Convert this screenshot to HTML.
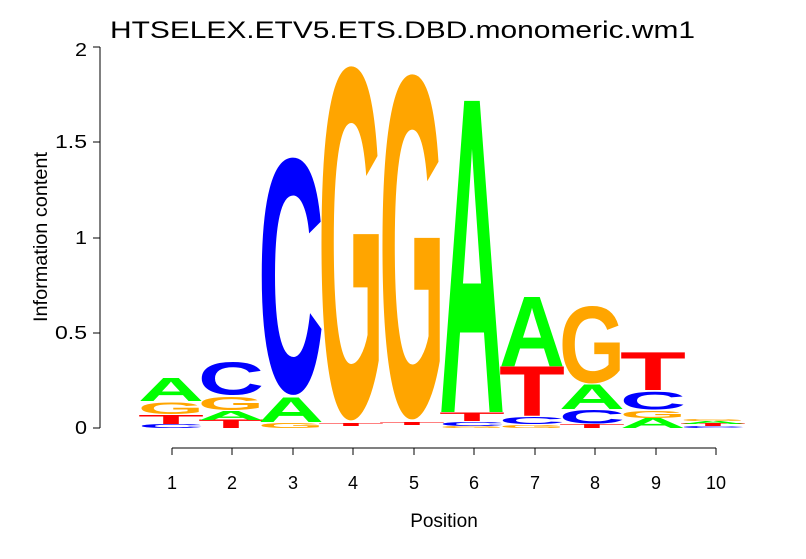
<!DOCTYPE html>
<html><head><style>body{margin:0;background:#fff}svg{display:block}</style></head>
<body>
<svg width="806" height="559" xmlns="http://www.w3.org/2000/svg" font-family="Liberation Sans, sans-serif">
<text x="110" y="38" font-size="24" textLength="585" lengthAdjust="spacingAndGlyphs">HTSELEX.ETV5.ETS.DBD.monomeric.wm1</text>
<g stroke="#000" stroke-width="1">
<line x1="100" y1="47" x2="100" y2="428"/>
<line x1="93" y1="428" x2="100" y2="428"/><line x1="93" y1="333" x2="100" y2="333"/><line x1="93" y1="238" x2="100" y2="238"/><line x1="93" y1="142" x2="100" y2="142"/><line x1="93" y1="47" x2="100" y2="47"/>
<line x1="172" y1="448" x2="716" y2="448"/>
<line x1="172" y1="448" x2="172" y2="455"/><line x1="232" y1="448" x2="232" y2="455"/><line x1="293" y1="448" x2="293" y2="455"/><line x1="353" y1="448" x2="353" y2="455"/><line x1="414" y1="448" x2="414" y2="455"/><line x1="474" y1="448" x2="474" y2="455"/><line x1="535" y1="448" x2="535" y2="455"/><line x1="595" y1="448" x2="595" y2="455"/><line x1="656" y1="448" x2="656" y2="455"/><line x1="716" y1="448" x2="716" y2="455"/>
</g>
<g font-size="18">
<text x="75" y="434" textLength="12" lengthAdjust="spacingAndGlyphs">0</text>
<text x="55" y="339" textLength="32" lengthAdjust="spacingAndGlyphs">0.5</text>
<text x="75" y="244" textLength="12" lengthAdjust="spacingAndGlyphs">1</text>
<text x="55" y="148" textLength="32" lengthAdjust="spacingAndGlyphs">1.5</text>
<text x="75" y="56" textLength="12" lengthAdjust="spacingAndGlyphs">2</text>
</g>
<g font-size="18" text-anchor="middle">
<text x="172" y="489">1</text><text x="232" y="489">2</text><text x="293" y="489">3</text><text x="353" y="489">4</text><text x="414" y="489">5</text><text x="474" y="489">6</text><text x="535" y="489">7</text><text x="595" y="489">8</text><text x="656" y="489">9</text><text x="716" y="489">10</text>
<text x="444" y="527" font-size="19">Position</text>
</g>
<text transform="translate(47,322) rotate(-90)" font-size="19" textLength="170" lengthAdjust="spacingAndGlyphs">Information content</text>
<g id="logo" font-weight="bold" font-size="100"></g>
<script>
var C={A:'#00ff00',C:'#0000ff',G:'#ffa500',T:'#ff0000'};
var d=[
[142,[['C',424,428],['T',415,424],['G',402,414],['A',378,401]]],
[202,[['T',420,428],['A',411,420],['G',397,410],['C',362,395]]],
[262,[['G',423,428],['A',398,422],['C',158,396]]],
[322,[['T',423,426],['G',67,422]]],
[383,[['T',422,425],['G',75,421]]],
[443,[['G',426,428],['C',422,426],['T',413,421],['A',100,412]]],
[503,[['G',425,428],['C',417,424],['T',367,416],['A',297,366]]],
[563,[['T',424,428],['C',410,424],['A',385,409],['G',306,384]]],
[624,[['A',418,428],['G',411,418],['C',392,410],['T',352,390]]],
[684,[['C',426,428],['T',423,426],['A',421,424],['G',419,421]]]];
var g=document.getElementById('logo'),ns='http://www.w3.org/2000/svg';
d.forEach(function(c){c[1].forEach(function(l){
var t=document.createElementNS(ns,'text');t.textContent=l[0];
var h=l[2]-l[1];var round=(l[0]=='C'||l[0]=='G');var ch=round?71:69;var oy=round?1.3:0;
t.setAttribute('x',0);t.setAttribute('y',0);t.setAttribute('fill',C[l[0]]);
t.setAttribute('textLength',66);t.setAttribute('lengthAdjust','spacingAndGlyphs');
t.setAttribute('transform','translate('+(c[0]-4)+','+l[2]+') scale(1,'+(h/ch)+') translate(0,'+(-oy)+')');
g.appendChild(t);});});
</script>
</svg>
</body></html>
